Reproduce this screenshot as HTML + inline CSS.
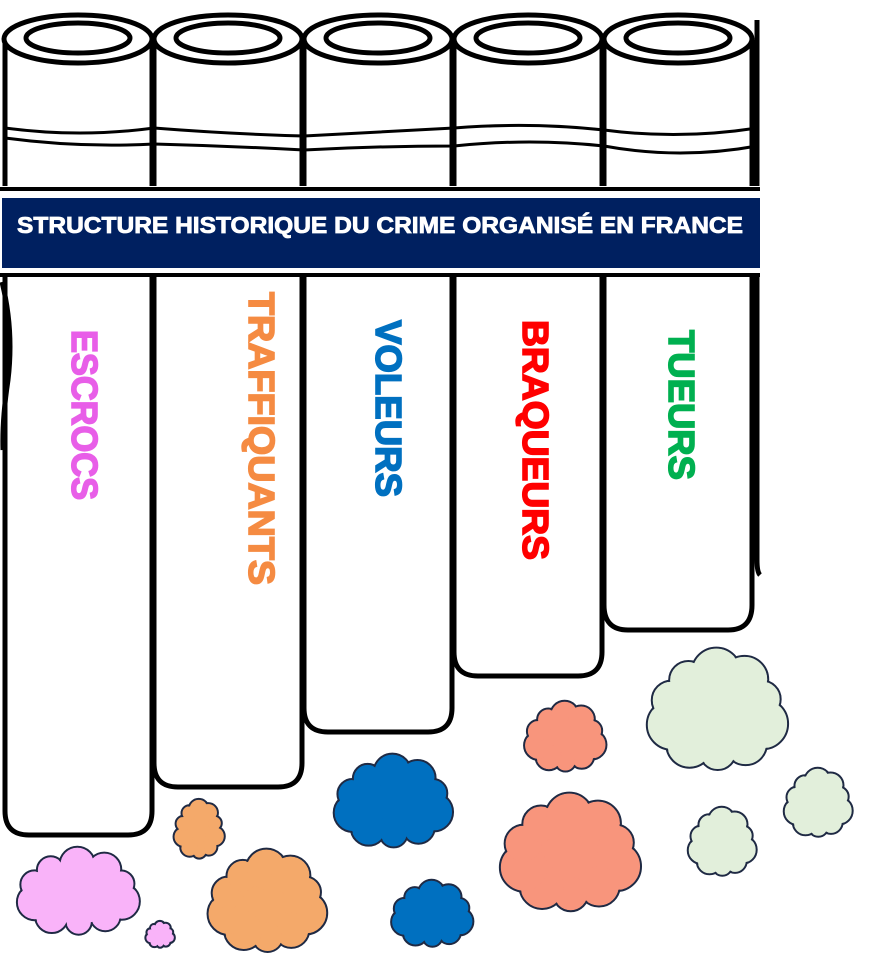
<!DOCTYPE html>
<html><head><meta charset="utf-8"><style>
html,body{margin:0;padding:0;background:#fff;width:870px;height:974px;overflow:hidden}
svg{display:block}
.v{font-family:"Liberation Sans",sans-serif;font-weight:bold;font-size:36px;stroke-width:1.6}
</style></head><body>
<svg id="s" width="870" height="974" viewBox="0 0 870 974" xmlns="http://www.w3.org/2000/svg">
<g fill="#fff" stroke="#000" stroke-width="5">
<path d="M757 20 L757 560 Q757 572 760 575" fill="none"/>
<path d="M604 40 V605 Q604 630 628 630 H728 Q752 630 752 605 V40"/>
<path d="M454 40 V652 Q454 676 478 676 H578 Q602 676 602 652 V40"/>
<path d="M304 40 V708 Q304 732 328 732 H428 Q452 732 452 708 V40"/>
<path d="M154 40 V763 Q154 787 178 787 H278 Q302 787 302 763 V40"/>
<path d="M5 40 V811 Q5 835 29 835 H128 Q152 835 152 811 V40"/>
<path d="M2 282 Q14 330 8 380 Q2 420 3 450" fill="none"/>
</g>
<g fill="#fff" stroke="#000" stroke-width="5">
<ellipse cx="78" cy="39" rx="74" ry="24"/><ellipse cx="78" cy="38" rx="52" ry="15"/>
<ellipse cx="228" cy="39" rx="74" ry="24"/><ellipse cx="228" cy="38" rx="52" ry="15"/>
<ellipse cx="378" cy="39" rx="74" ry="24"/><ellipse cx="378" cy="38" rx="52" ry="15"/>
<ellipse cx="528" cy="39" rx="74" ry="24"/><ellipse cx="528" cy="38" rx="52" ry="15"/>
<ellipse cx="678" cy="39" rx="74" ry="24"/><ellipse cx="678" cy="38" rx="52" ry="15"/>
</g>
<g fill="none" stroke="#000" stroke-width="3">
<path d="M5 128 Q80 138 154 128 Q230 134 304 136 Q380 132 454 128 Q530 122 604 130 Q680 140 757 128"/>
<path d="M5 138 Q80 148 154 144 Q230 146 304 150 Q380 146 454 146 Q530 138 604 146 Q680 160 757 146"/>
</g>
<rect x="0" y="186" width="760" height="90" fill="#fff"/>
<line x1="0" y1="189" x2="760" y2="189" stroke="#000" stroke-width="4"/>
<line x1="0" y1="275" x2="760" y2="275" stroke="#000" stroke-width="4"/>
<rect x="2" y="198" width="758" height="70" fill="#002060"/>
<text x="17" y="233" fill="#fff" stroke="#fff" stroke-width="0.8" font-family="Liberation Sans,sans-serif" font-weight="bold" font-size="23" textLength="726" lengthAdjust="spacingAndGlyphs">STRUCTURE HISTORIQUE DU CRIME ORGANISÉ EN FRANCE</text>
<text class="v" fill="#e85ee8" stroke="#e85ee8" transform="translate(72,330) rotate(90)" textLength="170" lengthAdjust="spacingAndGlyphs">ESCROCS</text>
<text class="v" fill="#f58b42" stroke="#f58b42" transform="translate(249,292) rotate(90)" textLength="293" lengthAdjust="spacingAndGlyphs">TRAFFIQUANTS</text>
<text class="v" fill="#0070c0" stroke="#0070c0" transform="translate(376,320) rotate(90)" textLength="177" lengthAdjust="spacingAndGlyphs">VOLEURS</text>
<text class="v" fill="#ff0000" stroke="#ff0000" transform="translate(523,320) rotate(90)" textLength="240" lengthAdjust="spacingAndGlyphs">BRAQUEURS</text>
<text class="v" fill="#00b050" stroke="#00b050" transform="translate(669,330) rotate(90)" textLength="150" lengthAdjust="spacingAndGlyphs">TUEURS</text>
<g id="clouds"></g>
</svg>
<script>
var C=[[78,893,63,46,'#f9b3f9'],[160,935,15,14,'#f9b3f9'],[199,830,26,31,'#f4a96a'],[267,903,61,54,'#f4a96a'],
[393,803,61,49,'#0070c0'],[432,915,42,35,'#0070c0'],[565,738,42,37,'#f8957c'],[570,855,72,62,'#f8957c'],
[717,712,72,64,'#e2efdb'],[722,843,35,36,'#e2efdb'],[818,804,35,36,'#e2efdb']];
var g=document.getElementById('clouds'),h='';
C.forEach(function(c){var n=10,br=Math.min(c[2],c[3])*0.38,pts=[];
for(var i=0;i<n;i++){var a=i/n*6.283+0.3;pts.push([c[0]+Math.cos(a)*(c[2]-br),c[1]+Math.sin(a)*(c[3]-br),br*(0.9+0.15*Math.cos(i*1.7))]);}
pts.forEach(function(p){h+='<circle cx="'+p[0]+'" cy="'+p[1]+'" r="'+p[2]+'" fill="'+c[4]+'" stroke="#1f2a44" stroke-width="2"/>';});
h+='<ellipse cx="'+c[0]+'" cy="'+c[1]+'" rx="'+(c[2]-br*0.9)+'" ry="'+(c[3]-br*0.9)+'" fill="'+c[4]+'"/>';
pts.forEach(function(p){h+='<circle cx="'+p[0]+'" cy="'+p[1]+'" r="'+(p[2]-1.2)+'" fill="'+c[4]+'"/>';});
});
g.innerHTML=h;
</script>
</body></html>
